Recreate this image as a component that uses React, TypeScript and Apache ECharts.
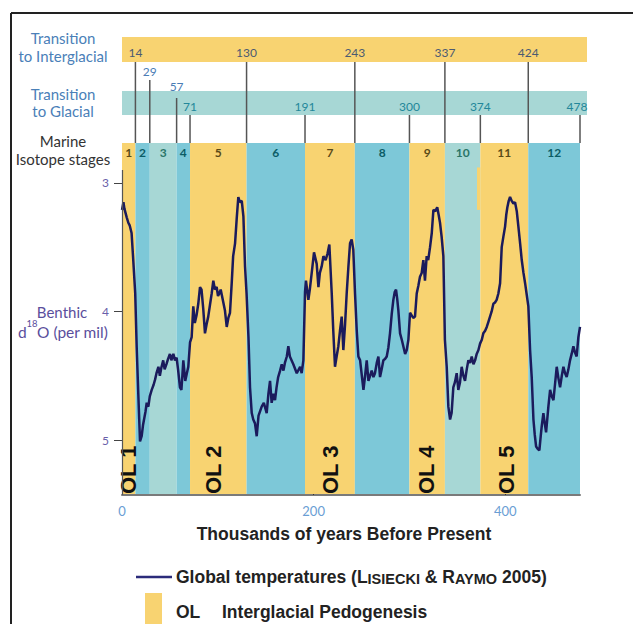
import React, { useEffect, useRef } from "react";
import * as echarts from "echarts";

// ---- data ----
const ages = [
  0, 1.5, 2.5, 5, 6.6, 8, 10, 11.5, 13.8, 15.3, 17, 18.8, 20.5, 22, 23, 24.5, 25.8, 27.5, 29, 31,
  33, 34.5, 36, 38, 39.5, 41, 43, 44.5, 46.4, 48, 50, 51.5, 53.6, 55.3, 57, 58.5, 60.5, 62, 63, 64,
  66, 67.7, 69.2, 71, 72.7, 74.4, 76, 77.8, 79.6, 81.4, 83, 84.8, 86.6, 88.3, 90, 91.8, 93.6, 95.3, 97, 98.8,
  100.2, 101.6, 103, 105.5, 107.4, 109.3, 111, 112.7, 114.5, 116, 118, 119.7, 121.4, 123, 125, 126.7, 128.4, 130, 132, 133.6,
  135.4, 137, 138.8, 140.6, 142.5, 145.8, 148, 151, 152.8, 154.5, 156.2, 158, 159.7, 161.3, 163, 165, 166.7, 168.5, 170, 172,
  173.6, 175.2, 178.8, 182.4, 185.9, 187.5, 189.3, 191, 192, 194.5, 196, 198, 200.4, 203.2, 205, 206.5, 208.4, 210.2, 212.5, 214.5,
  216.4, 218.9, 220.5, 222.3, 224, 225.8, 227.5, 229.3, 231, 232.8, 234.5, 236.3, 238, 239.7, 241.4, 243.2, 245, 246.7, 248.5, 250,
  252, 253.7, 255.4, 257.2, 258.9, 260.6, 262.4, 264, 265.9, 267.6, 269.3, 271, 272.8, 274.5, 276.3, 278, 279.7, 281.5, 283.2, 284.6,
  286, 287.2, 288.4, 290.2, 292, 293.6, 295.5, 297.2, 298.9, 300.6, 302.3, 304, 305.8, 307.6, 309.3, 311, 312.8, 314.5, 316.2, 318,
  319.6, 321.5, 323.3, 325, 327, 329, 330.5, 331.9, 333.6, 335.4, 337, 338.9, 340.6, 342.4, 344, 345.8, 347.5, 349.3, 351, 352.8,
  354.5, 356.3, 358, 359.8, 361.5, 363.3, 365, 366.8, 368.5, 370.2, 372, 373.7, 375.5, 377.1, 379, 380.7, 382.4, 384.1, 385.8, 387.6,
  389.3, 391, 392.8, 394.6, 396.3, 398, 399.8, 401, 402.2, 403.6, 405, 406.7, 408.5, 410.2, 412, 413.7, 415.5, 417.2, 419, 420.7,
  422.4, 424.1, 425.9, 427.6, 429.4, 430.8, 432.2, 434, 435.6, 437, 438.1, 439.8, 441.2, 442.6, 445, 446.8, 448.5, 450.3, 452, 453.7,
  455.5, 457.2, 459, 460.7, 462.4, 464.1, 465.9, 467.6, 469.3, 471.1, 472.8, 474.5, 476.3, 478,
];
const d18O = [
  3.21, 3.15, 3.2, 3.27, 3.31, 3.33, 3.39, 3.57, 3.86, 4.27, 4.64, 5.01, 4.97, 4.88, 4.84, 4.78, 4.71, 4.74, 4.66, 4.61,
  4.57, 4.53, 4.48, 4.43, 4.5, 4.44, 4.38, 4.45, 4.41, 4.37, 4.33, 4.38, 4.33, 4.38, 4.36, 4.45, 4.59, 4.61, 4.5, 4.38,
  4.54, 4.48, 4.43, 4.24, 4.2, 3.96, 4.09, 4.03, 3.94, 3.81, 3.83, 3.98, 4.17, 4.1, 4.04, 3.95, 3.86, 3.76, 3.83, 3.81,
  3.88, 3.86, 3.83, 3.92, 3.99, 4.12, 4.05, 4.01, 3.78, 3.57, 3.47, 3.28, 3.11, 3.15, 3.14, 3.26, 3.65, 3.86, 4.2, 4.59,
  4.79, 4.84, 4.87, 4.97, 4.81, 4.74, 4.71, 4.79, 4.64, 4.54, 4.71, 4.64, 4.69, 4.59, 4.51, 4.46, 4.41, 4.46, 4.4, 4.35,
  4.27, 4.35, 4.41, 4.48, 4.43, 4.48, 4.38, 3.85, 3.76, 3.91, 3.83, 3.7, 3.54, 3.63, 3.81, 3.7, 3.65, 3.57, 3.6, 3.55,
  3.48, 3.86, 4.15, 4.43, 4.35, 4.27, 4.15, 4.04, 4.3, 4.1, 3.86, 3.65, 3.47, 3.44, 3.52, 3.86, 4.15, 4.35, 4.38, 4.48,
  4.61, 4.5, 4.38, 4.54, 4.5, 4.46, 4.51, 4.48, 4.4, 4.35, 4.51, 4.45, 4.38, 4.37, 4.35, 4.28, 4.17, 4.02, 3.91, 3.85,
  3.83, 3.9, 3.99, 4.17, 4.22, 4.27, 4.33, 4.3, 4.22, 4.01, 4.03, 4.05, 4.04, 3.86, 3.8, 3.73, 3.7, 3.6, 3.76, 3.57,
  3.6, 3.5, 3.39, 3.21, 3.22, 3.19, 3.25, 3.31, 3.42, 3.57, 4.22, 4.43, 4.74, 4.84, 4.79, 4.59, 4.55, 4.48, 4.61, 4.55,
  4.43, 4.5, 4.54, 4.45, 4.38, 4.4, 4.35, 4.41, 4.38, 4.33, 4.3, 4.25, 4.22, 4.17, 4.15, 4.12, 4.08, 4.04, 4.0, 3.94,
  3.93, 3.91, 3.86, 3.78, 3.5, 3.42, 3.34, 3.25, 3.19, 3.14, 3.11, 3.14, 3.16, 3.15, 3.22, 3.34, 3.47, 3.6, 3.7, 3.78,
  3.87, 3.96, 4.3, 4.51, 4.84, 4.96, 5.05, 5.07, 5.08, 4.97, 4.89, 4.79, 4.87, 4.94, 4.74, 4.61, 4.66, 4.69, 4.56, 4.43,
  4.52, 4.59, 4.5, 4.43, 4.48, 4.51, 4.45, 4.38, 4.33, 4.27, 4.32, 4.35, 4.2, 4.12,
];

const stageStart = [0, 14, 29, 57, 71, 130, 191, 243, 300, 337, 374, 424];
const stageEnd = [14, 29, 57, 71, 130, 191, 243, 300, 337, 374, 424, 478];
const stageKind = [0, 1, 2, 1, 0, 1, 0, 1, 0, 2, 0, 1]; // 0 interglacial, 1 glacial, 2 mild glacial
const stageLabels = ["1", "2", "3", "4", "5", "6", "7", "8", "9", "10", "11", "12"];

const interglacialAges = [14, 130, 243, 337, 424];
const glacialAges = [29, 57, 71, 191, 300, 374, 478];

const olAges = [6.8, 95.5, 218, 318, 401];
const olLabels = ["OL 1", "OL 2", "OL 3", "OL 4", "OL 5"];

const xTicks = [0, 200, 400];
const yTicks = [3, 4, 5];

// ---- style / layout ----
const YELLOW = "#F8D371";
const BLUE = "#7DC8D8";
const MILD = "#A7D7D5";
const KIND_FILL = [YELLOW, BLUE, MILD];
const KIND_TEXT = ["#5a4a18", "#0b5c66", "#2a7568"];
const Y_MIN = 2.69;
const Y_MAX = 5.427;
const X_MIN = 0;
const X_MAX = 478;
const LATO = "Lato";
const ARIAL = "Liberation Sans";
const GLACIAL_ROW = [0, 1, 2, 2, 2, 2, 2];
const ROWS = [
  { labelY: 71, lineTop: 80, color: "#4a7db5" },
  { labelY: 86, lineTop: 98, color: "#4a7db5" },
  { labelY: 106, lineTop: 115, color: "#23879a" },
];

export default function App() {
  const ref = useRef<HTMLDivElement>(null);
  useEffect(() => {
    document.body.style.margin = "0";
    if (!ref.current) return;
    const chart = echarts.init(ref.current, undefined, { renderer: "svg" });

    const txt = (x: number, y: number, text: string, fill: string, size: number, family = LATO, weight: any = "normal", align = "center") => ({
      type: "text",
      x,
      y,
      z: 10,
      style: { text, fill, fontSize: size, fontFamily: family, fontWeight: weight, align, verticalAlign: "middle" },
    });

    const option: any = {
      animation: false,
      grid: { left: 122, right: 53, top: 143, bottom: 129, containLabel: false },
      xAxis: {
        type: "value",
        min: X_MIN,
        max: X_MAX,
        splitLine: { show: false },
        axisLine: { show: true, lineStyle: { color: "#7a7a7a", width: 2 } },
        axisTick: { show: true, inside: true, length: 6, customValues: xTicks, lineStyle: { color: "#333", width: 1 } },
        axisLabel: { customValues: xTicks, color: "#6a9ed4", fontSize: 13, fontFamily: LATO, margin: 9 },
      },
      yAxis: {
        type: "value",
        inverse: true,
        min: Y_MIN,
        max: Y_MAX,
        splitLine: { show: false },
        axisLine: { show: false },
        axisTick: { show: true, length: 8, customValues: yTicks, lineStyle: { color: "#444", width: 1 } },
        axisLabel: { customValues: yTicks, color: "#6a5faa", fontSize: 12, fontFamily: LATO, margin: 13 },
      },
      graphic: [
        { type: "rect", z: 0, shape: { x: 122, y: 37, width: 465, height: 25 }, style: { fill: YELLOW } },
        { type: "rect", z: 0, shape: { x: 122, y: 91, width: 465, height: 24 }, style: { fill: MILD } },
        { type: "line", z: 10, shape: { x1: 11, y1: 13, x2: 633, y2: 13 }, style: { stroke: "#222", lineWidth: 2 } },
        { type: "line", z: 10, shape: { x1: 11, y1: 13, x2: 11, y2: 624 }, style: { stroke: "#222", lineWidth: 2 } },
        { type: "line", z: 10, shape: { x1: 122.5, y1: 170, x2: 122.5, y2: 495 }, style: { stroke: "#555", lineWidth: 1.2 } },
        txt(63, 38, "Transition", "#4a80b8", 15),
        txt(63, 56, "to Interglacial", "#4a80b8", 15),
        txt(63, 94, "Transition", "#4a80b8", 15),
        txt(63, 111, "to Glacial", "#4a80b8", 15),
        txt(63, 141, "Marine", "#333", 15),
        txt(63, 159, "Isotope stages", "#333", 15),
        txt(62, 312, "Benthic", "#5a4e9c", 15),
        txt(18, 332, "d", "#5a4e9c", 15.5, LATO, "normal", "left"),
        txt(26.5, 323, "18", "#5a4e9c", 9.5, LATO, "normal", "left"),
        txt(37, 332, "O (per mil)", "#5a4e9c", 15.5, LATO, "normal", "left"),
        txt(344, 534, "Thousands of years Before Present", "#222", 17.5, ARIAL, "bold"),
        { type: "line", z: 10, shape: { x1: 136, y1: 577, x2: 172, y2: 577 }, style: { stroke: "#2b2b7a", lineWidth: 2.5 } },
        {
          type: "text",
          x: 176,
          y: 577,
          z: 10,
          style: {
            text: "{b|Global temperatures (L}{s|ISIECKI}{b| & R}{s|AYMO}{b| 2005)}",
            align: "left",
            verticalAlign: "middle",
            rich: {
              b: { fontSize: 17.5, fontFamily: ARIAL, fontWeight: "bold", fill: "#222", verticalAlign: "bottom" },
              s: { fontSize: 14.5, fontFamily: ARIAL, fontWeight: "bold", fill: "#222", verticalAlign: "bottom" },
            },
          },
        },
        { type: "rect", z: 10, shape: { x: 145, y: 593, width: 17, height: 31 }, style: { fill: YELLOW } },
        txt(176, 612, "OL", "#222", 17.5, ARIAL, "bold", "left"),
        txt(222, 612, "Interglacial Pedogenesis", "#222", 17.5, ARIAL, "bold", "left"),
      ],
      series: [
        {
          type: "custom",
          name: "stages",
          z: 1,
          silent: true,
          data: stageStart.map((s, i) => [s, stageEnd[i], stageKind[i]]),
          renderItem: (params: any, api: any) => {
            const i = params.dataIndex;
            const p0 = api.coord([api.value(0), Y_MIN]);
            const p1 = api.coord([api.value(1), Y_MAX]);
            const k = stageKind[i];
            const children: any[] = [
              {
                type: "rect",
                shape: { x: p0[0], y: p0[1], width: p1[0] - p0[0], height: p1[1] - p0[1] - 1 },
                style: { fill: KIND_FILL[k] },
              },
              {
                type: "text",
                x: (p0[0] + p1[0]) / 2,
                y: p0[1] + 9,
                style: {
                  text: stageLabels[i],
                  fill: KIND_TEXT[k],
                  fontSize: 12,
                  fontWeight: "bold",
                  fontFamily: LATO,
                  align: "center",
                  verticalAlign: "middle",
                },
              },
            ];
            if (i === 10) {
              const n0 = api.coord([api.value(0) - 3.5, 2.88]);
              const n1 = api.coord([api.value(0), 3.21]);
              children.push({
                type: "rect",
                shape: { x: n0[0], y: n0[1], width: n1[0] - n0[0], height: n1[1] - n0[1] },
                style: { fill: YELLOW },
              });
            }
            return { type: "group", children };
          },
        },
        {
          type: "line",
          name: "Global temperatures",
          z: 3,
          data: ages.map((a, i) => [a, d18O[i]]),
          showSymbol: false,
          symbol: "none",
          lineStyle: { color: "#1b1b5c", width: 2.5 },
        },
        {
          type: "custom",
          name: "interglacial",
          z: 4,
          silent: true,
          data: interglacialAges.map((t) => [t, 4]),
          renderItem: (params: any, api: any) => {
            const x = api.coord([api.value(0), 4])[0];
            return {
              type: "group",
              children: [
                { type: "line", shape: { x1: x, y1: 62, x2: x, y2: 143 }, style: { stroke: "#555", lineWidth: 1.5 } },
                {
                  type: "text",
                  x,
                  y: 52,
                  style: {
                    text: String(interglacialAges[params.dataIndex]),
                    fill: "#4b5a72",
                    fontSize: 12,
                    fontFamily: LATO,
                    align: "center",
                    verticalAlign: "middle",
                  },
                },
              ],
            };
          },
        },
        {
          type: "custom",
          name: "glacial",
          z: 4,
          silent: true,
          data: glacialAges.map((t) => [t, 4]),
          renderItem: (params: any, api: any) => {
            const i = params.dataIndex;
            const x = api.coord([api.value(0), 4])[0];
            const row = ROWS[GLACIAL_ROW[i]];
            const lx = i === glacialAges.length - 1 ? x - 3 : x;
            return {
              type: "group",
              children: [
                { type: "line", shape: { x1: x, y1: row.lineTop, x2: x, y2: 143 }, style: { stroke: "#555", lineWidth: 1.5 } },
                {
                  type: "text",
                  x: lx,
                  y: row.labelY,
                  style: {
                    text: String(glacialAges[i]),
                    fill: row.color,
                    fontSize: 12,
                    fontFamily: LATO,
                    align: "center",
                    verticalAlign: "middle",
                  },
                },
              ],
            };
          },
        },
        {
          type: "custom",
          name: "OL",
          z: 5,
          silent: true,
          data: olAges.map((t) => [t, Y_MAX]),
          renderItem: (params: any, api: any) => {
            const p = api.coord([api.value(0), Y_MAX]);
            return {
              type: "text",
              x: p[0],
              y: p[1] - 1,
              rotation: Math.PI / 2,
              style: {
                text: olLabels[params.dataIndex],
                fill: "#111",
                fontSize: 22,
                fontWeight: "bold",
                fontFamily: ARIAL,
                align: "left",
                verticalAlign: "middle",
              },
            };
          },
        },
      ],
    };
    chart.setOption(option);
    return () => chart.dispose();
  }, []);
  return <div ref={ref} style={{ width: 633, height: 624, background: "#fff" }} />;
}
